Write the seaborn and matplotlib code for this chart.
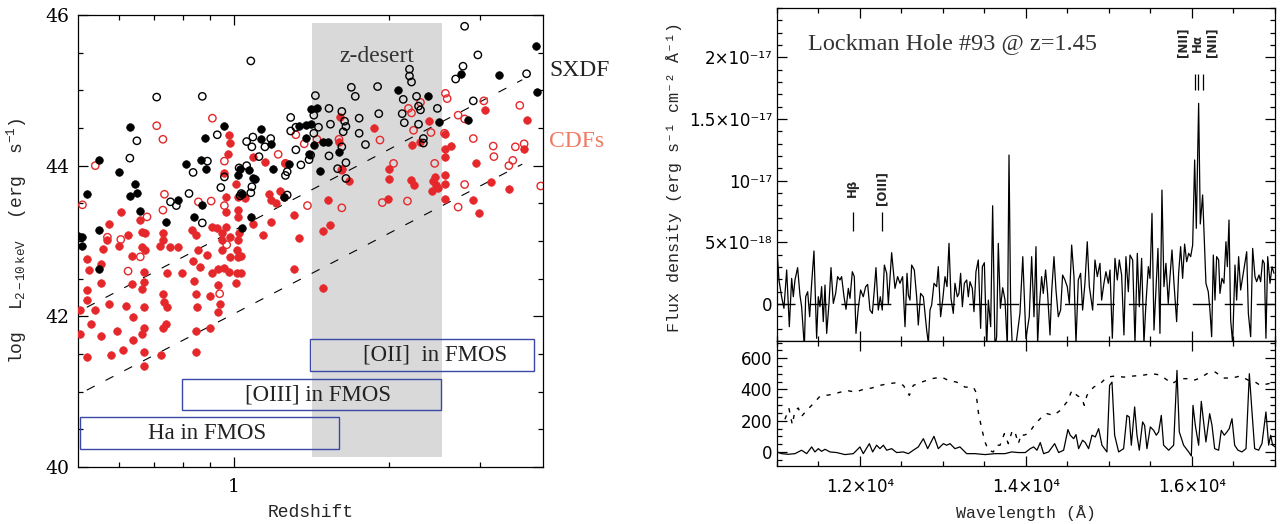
"""X-ray luminosity vs redshift, and the FMOS spectrum of Lockman Hole #93."""

import numpy as np
import pandas as pd
import matplotlib
matplotlib.use('Agg')
import matplotlib.pyplot as plt
import seaborn as sns
from matplotlib.patches import Rectangle
from matplotlib.ticker import FixedLocator, FixedFormatter, MultipleLocator, NullFormatter

# ---------------------------------------------------------------- data
# (redshift, log L_2-10keV)
sxdf_filled = [
    (0.50, 43.07), (0.51, 43.05), (0.51, 42.94), (0.52, 43.63), (0.55, 43.14),
    (0.55, 42.63), (0.55, 44.08), (0.63, 44.51), (0.645, 43.75), (0.65, 43.64),
    (0.63, 43.60), (0.66, 43.40), (0.60, 43.91), (0.74, 43.25), (0.78, 43.54),
    (0.81, 44.02), (0.84, 43.32), (0.87, 43.48), (0.865, 44.08), (0.885, 43.96),
    (0.96, 44.53), (0.88, 44.37), (1.02, 43.87), (1.03, 43.96), (1.04, 43.63),
    (1.07, 43.94), (1.08, 43.32), (1.04, 43.17), (1.09, 43.84), (1.10, 43.82),
    (1.13, 44.48), (1.13, 44.35), (1.18, 44.29), (1.19, 43.95), (1.28, 44.02),
    (1.25, 43.58), (1.34, 44.53), (1.38, 44.54), (1.41, 44.55), (1.38, 44.37),
    (1.40, 44.16), (1.43, 44.27), (1.45, 44.76), (1.41, 44.75), (1.47, 43.93),
    (1.49, 44.31), (1.52, 44.31), (1.60, 44.18), (2.08, 45.01), (2.38, 44.93),
    (2.50, 44.58), (2.75, 45.22), (2.84, 44.60), (3.26, 45.20), (3.84, 45.59),
    (3.86, 44.98),
]
sxdf_open = [
    (0.63, 44.10), (0.65, 44.33), (0.71, 44.91), (0.775, 43.47), (0.755, 43.52),
    (0.82, 43.63), (0.87, 43.24), (0.87, 44.92), (0.835, 43.91), (0.89, 44.06),
    (0.93, 44.41), (0.945, 43.71), (0.96, 43.85), (1.06, 44.32), (1.06, 44.00),
    (1.035, 43.63), (1.09, 44.38), (1.085, 44.25), (1.08, 43.64), (1.085, 43.72),
    (1.12, 44.12), (1.15, 44.25), (1.18, 44.36), (1.025, 43.97), (1.03, 43.60),
    (1.27, 43.92), (1.26, 43.87), (1.27, 43.61), (1.32, 44.21), (1.29, 44.64),
    (1.29, 44.46), (1.32, 44.51), (1.35, 44.01), (1.08, 45.39), (1.44, 44.93),
    (1.53, 44.76), (1.54, 44.55), (1.46, 44.51), (1.43, 44.67), (1.43, 44.43),
    (1.41, 44.14), (1.40, 44.08), (1.62, 44.72), (1.64, 44.59), (1.65, 44.52),
    (1.63, 44.45), (1.62, 44.25), (1.53, 44.13), (1.59, 43.96), (1.65, 44.04),
    (1.65, 43.83), (1.69, 45.04), (1.72, 44.92), (1.75, 44.63), (1.75, 44.43),
    (1.80, 44.28), (1.90, 45.05), (1.91, 44.69), (2.13, 44.88), (2.12, 44.69),
    (2.14, 44.57), (2.19, 45.28), (2.19, 45.19), (2.21, 45.11), (2.26, 44.92),
    (2.28, 44.79), (2.30, 44.74), (2.28, 44.55), (2.33, 44.36), (2.33, 44.30),
    (2.48, 44.76), (2.69, 45.15), (2.78, 45.32), (2.80, 45.85), (2.91, 44.86),
    (2.97, 45.47), (3.69, 45.22),
]
cdfs_filled = [
    (0.52, 42.76), (0.505, 42.09), (0.505, 41.76), (0.52, 41.46), (0.53, 41.90),
    (0.525, 42.61), (0.52, 42.35), (0.52, 42.22), (0.54, 42.09), (0.555, 42.44),
    (0.555, 42.70), (0.56, 42.90), (0.555, 41.74), (0.57, 43.01), (0.575, 43.22),
    (0.575, 42.17), (0.58, 41.49), (0.595, 41.80), (0.605, 43.38), (0.60, 42.94),
    (0.61, 41.55), (0.62, 42.14), (0.625, 43.08), (0.635, 42.43), (0.635, 42.80),
    (0.64, 41.69), (0.64, 41.99), (0.66, 43.28), (0.665, 43.12), (0.665, 42.92),
    (0.67, 42.59), (0.67, 42.45), (0.665, 42.36), (0.67, 41.84), (0.665, 41.76),
    (0.67, 41.53), (0.67, 41.34), (0.675, 43.11), (0.675, 42.88), (0.67, 42.12),
    (0.72, 42.93), (0.73, 43.10), (0.73, 43.01), (0.755, 42.92), (0.78, 42.92),
    (0.73, 42.30), (0.735, 42.19), (0.745, 42.12), (0.74, 41.90), (0.73, 41.84),
    (0.725, 41.48), (0.745, 42.57), (0.83, 43.14), (0.845, 43.08), (0.855, 42.88),
    (0.835, 42.74), (0.86, 42.66), (0.84, 42.47), (0.845, 42.30), (0.85, 42.13),
    (0.845, 41.80), (0.845, 41.53), (0.90, 41.84), (0.90, 42.27), (0.935, 42.63),
    (0.91, 42.58), (0.935, 42.41), (0.94, 42.16), (0.935, 42.06), (0.96, 42.64),
    (0.98, 42.59), (0.91, 43.19), (0.93, 43.17), (0.95, 43.10), (0.965, 43.18),
    (0.95, 43.01), (0.985, 43.05), (0.95, 42.88), (0.985, 42.79), (0.89, 42.81),
    (0.795, 42.58), (0.98, 44.41), (0.985, 44.30), (0.975, 44.16), (0.96, 43.90),
    (0.965, 43.59), (0.965, 43.39), (1.015, 42.88), (1.02, 42.79), (1.035, 42.80),
    (1.015, 42.58), (1.035, 42.58), (1.01, 42.44), (1.02, 43.01), (1.02, 43.32),
    (1.025, 43.11), (1.02, 43.41), (1.02, 43.59), (1.05, 43.57), (1.01, 43.76),
    (1.09, 44.12), (1.15, 44.05), (1.17, 43.63), (1.18, 43.54), (1.23, 43.67),
    (1.26, 44.03), (1.25, 43.59), (1.21, 43.51), (1.18, 43.25), (1.09, 43.23),
    (1.14, 43.08), (1.34, 43.04), (1.31, 43.35), (1.31, 42.63), (1.49, 43.13),
    (1.54, 43.21), (1.49, 42.38), (1.52, 43.54), (1.61, 44.65), (1.60, 44.32),
    (1.62, 43.95), (1.67, 43.79), (1.87, 44.50), (2.00, 43.82), (1.99, 43.56),
    (2.00, 43.95), (2.21, 44.27), (2.23, 43.74), (2.20, 43.81), (2.43, 43.79),
    (2.42, 43.67), (2.45, 43.85), (2.47, 43.74), (2.49, 43.70), (2.39, 44.59),
    (2.56, 44.42), (2.56, 44.22), (2.57, 44.11), (2.57, 43.87), (2.57, 43.75),
    (2.57, 43.56), (2.64, 44.26), (2.94, 44.04), (2.91, 43.55), (2.98, 43.37),
    (3.07, 44.74), (3.15, 43.78), (3.41, 43.69), (3.70, 44.61), (3.65, 44.22),
    (2.29, 44.32),
]
cdfs_open = [
    (0.51, 43.48), (0.54, 44.00), (0.71, 44.53), (0.73, 44.35), (0.625, 42.60),
    (0.66, 42.79), (0.68, 43.32), (0.735, 43.62), (0.73, 43.41), (0.605, 43.02),
    (0.57, 43.05), (0.91, 44.63), (0.905, 43.53), (0.855, 43.52), (0.96, 43.47),
    (0.97, 42.95), (0.94, 42.30), (0.96, 44.06), (1.22, 44.15), (1.26, 44.03),
    (1.32, 44.41), (1.37, 44.29), (1.45, 44.35), (1.39, 43.47), (1.60, 44.35),
    (1.62, 43.94), (1.62, 43.44), (1.92, 44.34), (1.94, 43.51), (2.04, 44.03),
    (2.17, 43.53), (2.18, 44.76), (2.21, 44.70), (2.23, 44.47), (2.30, 44.84),
    (2.41, 44.44), (2.45, 44.03), (2.57, 44.96), (2.59, 44.89), (2.56, 44.43),
    (2.72, 43.45), (2.80, 43.75), (2.72, 44.67), (2.80, 44.62), (2.91, 44.36),
    (3.05, 44.86), (3.18, 44.26), (3.19, 44.12), (3.41, 44.00), (3.47, 44.07),
    (3.51, 44.25), (3.65, 44.29), (3.58, 44.80), (3.93, 43.73),
]

# flux limit curves
limit_z = [0.52, 3.62]
limit_upper = [42.12, 45.14]
limit_lower = [41.02, 44.02]

# redshift windows
desert_z = (1.418, 2.53)
fmos_windows = [(1.408, 3.82, '[OII]  in FMOS', 2.45),
                (0.793, 2.52, '[OIII] in FMOS', 1.46),
                (0.504, 1.603, 'Ha in FMOS', 0.888)]
fmos_rows = [(41.28, 41.70), (40.75, 41.17), (40.24, 40.66)]

# spectrum: (wavelength [A], flux [1e-18 erg/s/cm2/A])
spectrum = [
    (10996, 4.92), (11024, 1.95), (11056, 0.59), (11084, -0.35), (11117, 2.76),
    (11149, -1.84), (11177, 2.08), (11197, 0.59), (11217, 1.95), (11249, 2.95),
    (11277, 0.73), (11297, -0.22), (11330, -3.5), (11346, 0.59), (11370, 1.00),
    (11394, -1.03), (11418, 1.68), (11446, 4.30), (11478, -2.78), (11498, 0.59),
    (11518, -0.22), (11538, 1.41), (11558, -1.43), (11579, 1.54), (11599, -2.38),
    (11627, 0.05), (11651, 2.95), (11679, 0.05), (11707, 0.86), (11731, 2.22),
    (11759, 1.95), (11779, 2.22), (11808, 0.59), (11832, -0.43), (11860, 1.27),
    (11880, 0.46), (11908, 2.62), (11932, 2.22), (11952, -2.38), (11980, -0.35),
    (12008, 1.14), (12040, 0.59), (12069, 1.41), (12093, 1.59), (12121, -0.49),
    (12149, -0.76), (12173, 1.14), (12193, 2.95), (12221, -0.49), (12245, 0.59),
    (12269, -0.49), (12294, 3.16), (12322, 2.49), (12342, 0.05), (12382, 4.16),
    (12422, 1.27), (12454, 2.22), (12482, 1.68), (12514, 2.22), (12543, -1.84),
    (12567, 2.49), (12583, 0.73), (12603, 0.32), (12623, 3.16), (12655, 2.76),
    (12683, 0.59), (12703, -1.70), (12731, 0.86), (12764, 0.59), (12784, -0.76),
    (12804, -2.11), (12824, -3.19), (12844, -0.49), (12864, -0.08), (12892, 1.68),
    (12924, 1.41), (12944, 3.03), (12972, -1.03), (12997, 0.32), (13025, 2.22),
    (13049, 1.41), (13073, 4.92), (13097, 0.46), (13125, -0.76), (13145, 1.68),
    (13173, 0.59), (13193, 0.86), (13213, 2.49), (13234, -0.22), (13258, 1.68),
    (13286, 1.95), (13306, 0.59), (13326, 1.81), (13354, 1.27), (13374, -0.62),
    (13398, 2.62), (13426, 3.57), (13454, -1.97), (13475, 3.03), (13499, 3.35),
    (13527, -3.5), (13547, 0.32), (13575, -1.84), (13599, 7.97), (13627, -3.5),
    (13647, -2.65), (13667, 4.92), (13692, -0.35), (13720, 1.32), (13748, 0.32),
    (13776, -3.5), (13796, 12.08), (13816, -0.22), (13836, -3.5), (13876, -3.5),
    (13928, -0.76), (13962, 3.84), (14000, -2.8), (14040, -1.03), (14069, 3.84),
    (14097, -1.03), (14121, 4.65), (14141, -3.19), (14161, -0.22), (14189, 2.22),
    (14209, 0.86), (14237, 2.76), (14261, 0.86), (14290, -2.51), (14310, 1.00),
    (14338, 3.84), (14362, 1.14), (14390, -1.03), (14418, -0.49), (14442, 2.35),
    (14470, 1.95), (14498, 1.41), (14523, 0.05), (14551, 4.78), (14579, 2.22),
    (14603, -3.19), (14631, 1.95), (14659, 2.49), (14683, -0.49), (14711, 1.68),
    (14739, 5.05), (14764, 1.41), (14792, 0.05), (14804, -0.49), (14832, 3.57),
    (14860, 2.22), (14892, 3.30), (14912, 0.32), (14940, 1.68), (14964, 2.62),
    (14993, 1.68), (15013, 2.76), (15041, -2.78), (15073, 3.70), (15101, 1.95),
    (15125, 3.57), (15153, 2.35), (15181, -2.51), (15205, 3.84), (15234, 1.00),
    (15254, 3.97), (15286, 3.57), (15314, -3.19), (15342, 4.11), (15366, -0.22),
    (15394, 3.70), (15422, -3.19), (15446, 0.05), (15475, 3.03), (15495, 2.08),
    (15519, 7.35), (15543, -2.11), (15567, 1.14), (15591, 4.51), (15615, -2.38),
    (15639, 9.24), (15663, 1.41), (15687, 3.30), (15715, 0.05), (15736, 2.22),
    (15760, 4.38), (15784, 1.68), (15816, -1.43), (15840, 2.49), (15864, 4.65),
    (15888, 2.08), (15912, 4.86), (15937, 3.43), (15961, 4.11), (15985, 3.84),
    (16009, 4.78), (16033, 11.68), (16053, 6.14), (16081, 16.27), (16101, 6.49),
    (16129, 8.84), (16149, 5.19), (16169, 1.68), (16197, 1.00), (16217, -0.49),
    (16238, -2.65), (16258, 3.97), (16278, 0.32), (16298, 3.84), (16322, 3.57),
    (16338, 0.86), (16362, 2.08), (16386, 1.68), (16410, 5.05), (16427, 3.03),
    (16447, 6.81), (16467, -1.30), (16491, -3.19), (16519, 3.16), (16539, 0.32),
    (16563, 3.84), (16587, 1.14), (16612, 2.22), (16632, 3.03), (16660, 4.24),
    (16680, -0.76), (16708, -2.65), (16732, 4.51), (16760, 2.22), (16780, 1.81),
    (16808, 2.35), (16828, 1.81), (16852, 3.57), (16872, 3.30), (16892, -2.78),
    (16913, 3.84), (16941, 1.68), (16965, 3.03), (16989, 2.49),
]

# lower panel: throughput (dotted) and sky/noise (solid), (wavelength, value)
throughput = [
    (11096, 209), (11145, 277), (11185, 175), (11217, 266), (11257, 281),
    (11297, 228), (11358, 266), (11438, 309), (11518, 356), (11639, 366),
    (11739, 379), (11840, 394), (11940, 383), (12040, 400), (12141, 409),
    (12241, 426), (12342, 437), (12442, 443), (12523, 426), (12595, 362),
    (12643, 426), (12743, 447), (12864, 469), (12985, 479), (13065, 458),
    (13165, 447), (13266, 415), (13366, 415), (13398, 383), (13426, 256),
    (13467, 149), (13507, 64), (13547, 11), (13607, 0), (13647, 43),
    (13688, 43), (13740, 117), (13788, 53), (13836, 138), (13868, 128),
    (13908, 53), (13948, 117), (13972, 107), (14032, 117), (14113, 181),
    (14193, 224), (14253, 245), (14334, 234), (14414, 266), (14494, 320),
    (14555, 394), (14615, 362), (14675, 341), (14703, 298), (14735, 362),
    (14816, 415), (14896, 437), (14976, 479), (15077, 486), (15177, 479),
    (15298, 486), (15398, 490), (15519, 501), (15599, 494), (15679, 469),
    (15760, 437), (15860, 469), (15940, 469), (16021, 458), (16101, 473),
    (16181, 501), (16282, 511), (16382, 473), (16482, 473), (16583, 486),
    (16684, 458), (16764, 447), (16824, 426), (16925, 437), (17005, 447),
]
sky = [
    (10996, 0), (11056, -11), (11137, -15), (11217, -11), (11297, 11),
    (11358, -11), (11418, 32), (11458, 0), (11498, 21), (11538, 4),
    (11579, 17), (11639, 0), (11719, -4), (11820, -17), (11920, -11),
    (12000, 32), (12040, -11), (12113, 53), (12153, 0), (12201, 43),
    (12241, 21), (12282, 43), (12322, 11), (12382, 21), (12442, -4),
    (12523, 0), (12583, -11), (12643, 11), (12703, 32), (12764, 85),
    (12816, 21), (12892, 100), (12944, 21), (13005, 53), (13045, 43),
    (13085, 53), (13145, 21), (13205, 32), (13286, -11), (13386, -11),
    (13507, -17), (13627, -11), (13748, -11), (13828, 0), (13908, -4),
    (13992, -4), (14052, 21), (14093, 32), (14133, 11), (14173, 60),
    (14213, -11), (14273, 0), (14346, 53), (14394, -4), (14454, 11),
    (14506, 143), (14534, 107), (14575, 85), (14603, 111), (14635, 21),
    (14683, 75), (14715, 60), (14755, 21), (14796, 107), (14836, 96),
    (14876, 149), (14916, 43), (14976, 0), (15008, 426), (15037, 447),
    (15069, 107), (15117, 0), (15177, 21), (15217, 234), (15245, 224),
    (15270, 43), (15310, 288), (15338, 107), (15366, 11), (15406, 192),
    (15430, 170), (15458, 21), (15499, 160), (15539, 138), (15571, 107),
    (15599, 128), (15631, 234), (15659, 43), (15720, 11), (15780, 43),
    (15820, 522), (15848, 128), (15900, 43), (15961, 0), (15993, -26),
    (16013, 298), (16041, 170), (16081, 43), (16113, 324), (16141, 192),
    (16169, 64), (16214, 245), (16242, 170), (16274, 21), (16322, 11),
    (16354, 138), (16390, 107), (16422, 128), (16450, 149), (16483, 213),
    (16515, 43), (16555, 11), (16603, 0), (16652, 21), (16692, 501),
    (16724, 256), (16756, 21), (16804, 11), (16844, 53), (16892, 256),
    (16925, 43), (16949, 107), (16973, 43), (17005, 32),
]

# emission line markers
line_waves = [11912, 12269, 16043, 16079, 16131]
line_labels = [(11912, 'H\u03b2'), (12269, '[OIII]'),
               (15886, '[NII]'), (16068, 'H\u03b1'), (16244, '[NII]')]

RED = '#e5282b'
BLUE = '#3a48a8'
SALMON = '#f07a62'

# ---------------------------------------------------------------- style
sns.set_theme(style='ticks')
plt.rcParams['font.family'] = ['DejaVu Sans']
plt.rcParams['mathtext.fontset'] = 'custom'
plt.rcParams['mathtext.rm'] = 'Liberation Mono'
plt.rcParams['mathtext.it'] = 'Liberation Mono'
plt.rcParams['axes.linewidth'] = 0.9
MONO = ['Liberation Mono', 'DejaVu Sans Mono']
SERIF = ['Liberation Serif', 'DejaVu Serif']

fig = plt.figure(figsize=(12.87, 5.24), dpi=100)
ax1 = fig.add_axes([0.0606, 0.1088, 0.3613, 0.8626])
ax2 = fig.add_axes([0.6037, 0.3492, 0.3869, 0.6355])
ax3 = fig.add_axes([0.6037, 0.1107, 0.3869, 0.2385])


def style_ticks(ax, size):
    ax.tick_params(which='both', direction='in', top=True, right=True,
                   width=0.9, labelsize=size, colors='black')
    ax.tick_params(which='major', length=7)
    ax.tick_params(which='minor', length=3.5)
    for sp in ax.spines.values():
        sp.set_visible(True)
        sp.set_color('black')


# ---------------------------------------------------------------- left panel
ax1.set_xscale('log')
ax1.fill_between(list(desert_z), 40.13, 45.90, color='#d9d9d9', lw=0, zorder=0)

for (z0, z1, label, zc), (y0, y1) in zip(fmos_windows, fmos_rows):
    ax1.add_patch(Rectangle((z0, y0), z1 - z0, y1 - y0, fc='none', ec=BLUE,
                            lw=1.0, zorder=1))
    ax1.text(zc, (y0 + y1) / 2, label, ha='center', va='center',
             fontsize=16.5, family=SERIF, color='#222222', zorder=2)

for lim in (limit_upper, limit_lower):
    sns.lineplot(x=limit_z, y=lim, ax=ax1, color='black', lw=0.8,
                 linestyle=(0, (8, 11)), zorder=2)


def pts(pairs):
    return pd.DataFrame(pairs, columns=['z', 'logL'])


sns.scatterplot(data=pts(cdfs_filled), x='z', y='logL', ax=ax1, s=30,
                color=RED, edgecolor=RED, linewidth=0.5, zorder=3)
sns.scatterplot(data=pts(cdfs_open), x='z', y='logL', ax=ax1, s=28,
                facecolor='none', edgecolor=RED, linewidth=1.0, zorder=3)
sns.scatterplot(data=pts(sxdf_filled), x='z', y='logL', ax=ax1, s=30,
                color='black', edgecolor='black', linewidth=0.5, zorder=4)
sns.scatterplot(data=pts(sxdf_open), x='z', y='logL', ax=ax1, s=28,
                facecolor='none', edgecolor='black', linewidth=1.0, zorder=4)

ax1.text(1.894, 45.45, 'z-desert', ha='center', va='center', fontsize=17,
         family=SERIF, color='#333333')
ax1.text(1.013, 0.878, 'SXDF', transform=ax1.transAxes, ha='left',
         va='center', fontsize=17, family=SERIF, color='#222222', clip_on=False)
ax1.text(1.013, 0.721, 'CDFs', transform=ax1.transAxes, ha='left',
         va='center', fontsize=17, family=SERIF, color=SALMON, clip_on=False)

ax1.set_xlim(0.5, 3.97)
ax1.set_ylim(40, 46)
ax1.xaxis.set_major_locator(FixedLocator([1]))
ax1.xaxis.set_major_formatter(FixedFormatter(['1']))
ax1.xaxis.set_minor_locator(FixedLocator([0.6, 0.7, 0.8, 0.9, 2, 3]))
ax1.xaxis.set_minor_formatter(NullFormatter())
ax1.yaxis.set_major_locator(MultipleLocator(2))
ax1.yaxis.set_minor_locator(MultipleLocator(0.5))
style_ticks(ax1, 13.5)
ax1.tick_params(axis='x', which='major', pad=8)
ax1.tick_params(axis='y', which='major', pad=6)
for lab in ax1.get_xticklabels() + ax1.get_yticklabels():
    lab.set_fontfamily(['DejaVu Serif'])

ax1.set_xlabel('Redshift', fontsize=13, family=MONO)
ax1.set_ylabel(r'log  L$_{\mathrm{2-10\ keV}}$  (erg  s$^{-1}$)',
               fontsize=13, family=MONO)
ax1.xaxis.set_label_coords(0.5, -0.082)
ax1.yaxis.set_label_coords(-0.105, 0.5)

# ---------------------------------------------------------------- spectrum
spec = pd.DataFrame(spectrum, columns=['wave', 'flux'])
spec['flux'] = spec['flux'] * 1e-18
ax2.axhline(0, color='black', lw=1.0, linestyle=(0, (13, 10)), zorder=1)
sns.lineplot(data=spec, x='wave', y='flux', ax=ax2, color='black', lw=0.9,
             sort=False, estimator=None, zorder=2)

ax2.vlines(line_waves[:2], 5.93e-18, 7.47e-18, color='black', lw=0.9)
ax2.vlines(line_waves[2:], 17.37e-18, 18.67e-18, color='black', lw=0.9)
for w, lab in line_labels[:2]:
    ax2.text(w, 9.4e-18, lab, rotation=90, ha='center', va='center',
             fontsize=8.5, fontweight='bold')
for w, lab in line_labels[2:]:
    ax2.text(w, 21.2e-18, lab, rotation=90, ha='center', va='center',
             fontsize=8.5, fontweight='bold')

ax2.text(11380, 21.1e-18, 'Lockman Hole #93 @ z=1.45', ha='left',
         va='center', fontsize=17.5, family=SERIF, color='#333333')

ax2.set_xlim(11000, 17000)
ax2.set_ylim(-3.0e-18, 2.4e-17)
ax2.xaxis.set_major_locator(FixedLocator([12000, 14000, 16000]))
ax2.xaxis.set_minor_locator(MultipleLocator(500))
ax2.yaxis.set_major_locator(FixedLocator([0, 5e-18, 1e-17, 1.5e-17, 2e-17]))
ax2.yaxis.set_major_formatter(FixedFormatter(
    ['0', '5\u00d710\u207b\u00b9\u2078', '10\u207b\u00b9\u2077',
     '1.5\u00d710\u207b\u00b9\u2077', '2\u00d710\u207b\u00b9\u2077']))
ax2.yaxis.set_minor_locator(MultipleLocator(1e-18))
style_ticks(ax2, 12)
ax2.tick_params(labelbottom=False)
ax2.set_xlabel('')
ax2.set_ylabel('Flux density (erg s\u207b\u00b9 cm\u207b\u00b2 \u00c5\u207b\u00b9)',
               fontsize=12, family=MONO)
ax2.yaxis.set_label_coords(-0.19, 0.494)

# ---------------------------------------------------------------- lower panel
thr = pd.DataFrame(throughput, columns=['wave', 'value'])
skyd = pd.DataFrame(sky, columns=['wave', 'value'])
sns.lineplot(data=thr, x='wave', y='value', ax=ax3, color='black', lw=1.0,
             linestyle=(0, (3, 5)), sort=False, estimator=None)
sns.lineplot(data=skyd, x='wave', y='value', ax=ax3, color='black', lw=0.9,
             sort=False, estimator=None)

ax3.set_xlim(11000, 17000)
ax3.set_ylim(-90, 710)
ax3.xaxis.set_major_locator(FixedLocator([12000, 14000, 16000]))
ax3.xaxis.set_major_formatter(FixedFormatter(
    ['1.2\u00d710\u2074', '1.4\u00d710\u2074', '1.6\u00d710\u2074']))
ax3.xaxis.set_minor_locator(MultipleLocator(500))
ax3.yaxis.set_major_locator(MultipleLocator(200))
ax3.yaxis.set_minor_locator(MultipleLocator(50))
style_ticks(ax3, 12)
ax3.tick_params(axis='x', which='major', pad=9)
ax3.set_ylabel('')
ax3.set_xlabel('Wavelength (\u00c5)', fontsize=12, family=MONO)
ax3.xaxis.set_label_coords(0.5, -0.31)

fig.savefig('out.png', dpi=100)
